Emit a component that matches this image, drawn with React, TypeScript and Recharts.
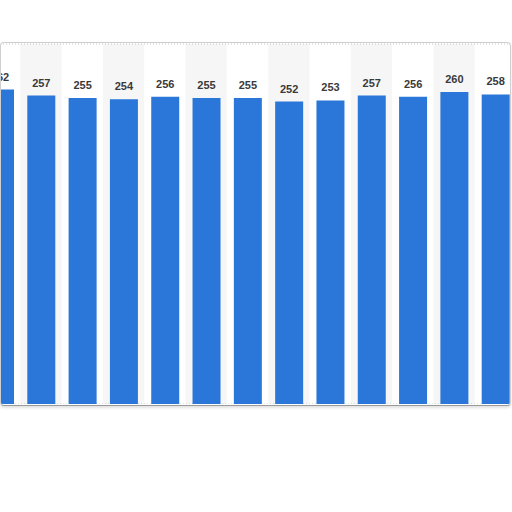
import { Bar, BarChart, CartesianGrid, LabelList, ReferenceArea, XAxis, YAxis } from 'recharts'

const categories = ['1', '2', '3', '4', '5', '6', '7', '8', '9', '10', '11', '12', '13']
const values = [262, 257, 255, 254, 256, 255, 255, 252, 253, 257, 256, 260, 258]
const yTicks = [0, 50, 100, 150, 200, 250, 300]

const data = categories.map((name, i) => ({ name, value: values[i] }))
const shaded = categories.filter((_, i) => i % 2 === 1)

export default function App() {
  return (
    <div style={{ position: 'absolute', left: 0, top: 0, width: 512, height: 512, background: '#fff', overflow: 'hidden' }}>
      <div
        style={{
          position: 'absolute',
          left: 0,
          top: 42,
          width: 509,
          height: 362,
          border: '1px solid #cfcfcf',
          borderBottom: '1px solid #9a9a9a',
          borderRadius: 4,
          overflow: 'hidden',
          boxShadow: '0 2px 3px rgba(0,0,0,0.12)',
          background: '#fff',
        }}
      >
        <div style={{ position: 'absolute', left: -22, top: 0 }}>
          <BarChart width={537} height={361} data={data} margin={{ top: 1, right: 0, left: 0, bottom: 0 }}>
            <CartesianGrid vertical={false} stroke="#c8c8c8" strokeDasharray="1 2" />
            {shaded.map((c) => (
              <ReferenceArea key={c} x1={c} x2={c} fill="#000" fillOpacity={0.035} stroke="none" />
            ))}
            <XAxis dataKey="name" height={0} tick={false} tickLine={false} axisLine={false} />
            <YAxis width={0} domain={[0, 300]} ticks={yTicks} tick={false} tickLine={false} axisLine={false} />
            <Bar dataKey="value" fill="#2a77d9" barSize={28} isAnimationActive={false}>
              <LabelList
                dataKey="value"
                position="top"
                offset={9}
                fill="#3a3a3a"
                fontSize={11}
                fontWeight="bold"
                fontFamily="Liberation Sans, Arial, sans-serif"
              />
            </Bar>
          </BarChart>
        </div>
      </div>
    </div>
  )
}
